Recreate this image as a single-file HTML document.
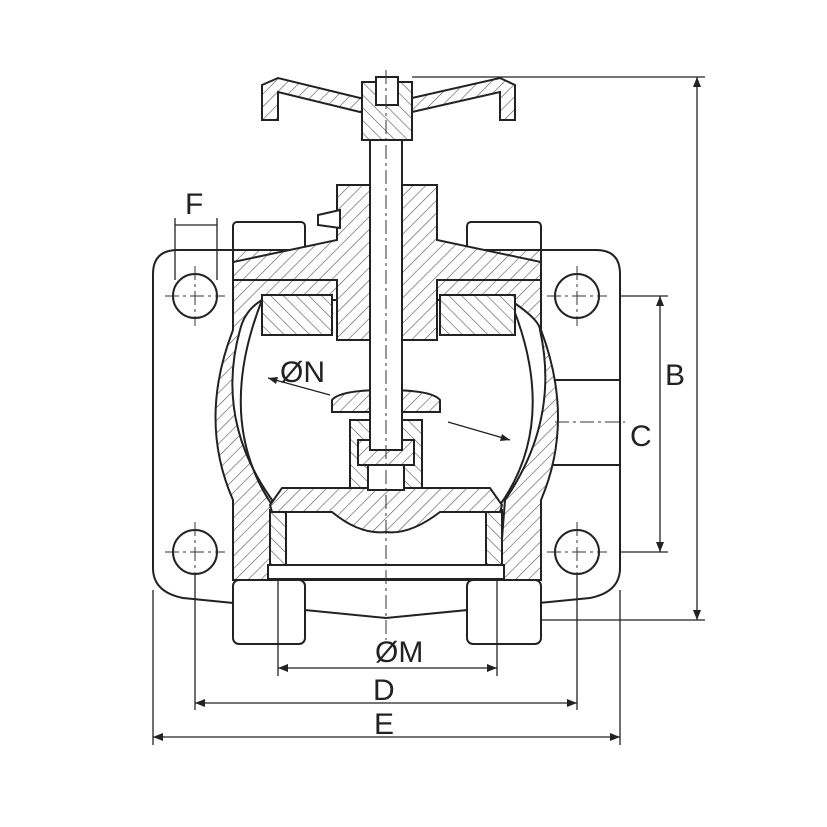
<!DOCTYPE html>
<html><head><meta charset="utf-8"><style>
html,body{margin:0;padding:0;background:#fff}
svg{display:block}
text{font-family:"Liberation Sans",sans-serif;font-size:30px;fill:#222}
</style></head><body>
<svg width="827" height="827" viewBox="0 0 827 827" xmlns="http://www.w3.org/2000/svg">
<defs>
<pattern id="h" width="9" height="9" patternUnits="userSpaceOnUse" patternTransform="rotate(45)">
<rect width="9" height="9" fill="#fff"/><line x1="0" y1="0" x2="0" y2="9" stroke="#555" stroke-width="1.2"/>
</pattern>
<pattern id="h2" width="9" height="9" patternUnits="userSpaceOnUse" patternTransform="rotate(-45)">
<rect width="9" height="9" fill="#fff"/><line x1="0" y1="0" x2="0" y2="9" stroke="#555" stroke-width="1.2"/>
</pattern>
</defs>
<g stroke="#222" stroke-width="2" fill="none">
<!-- flange plate -->
<path d="M178 250 L596 250 Q620 250 620 274 L620 568 Q620 592 590 598 L386 618 L183 598 Q153 592 153 568 L153 274 Q153 250 178 250 Z" fill="#fff"/>
<!-- bottom bolts -->
<rect x="233" y="580" width="72" height="64" rx="6" fill="#fff"/>
<rect x="467" y="580" width="74" height="64" rx="6" fill="#fff"/>
<!-- top bolt bosses -->
<rect x="233" y="222" width="72" height="30" rx="4" fill="#fff"/>
<rect x="467" y="222" width="74" height="30" rx="4" fill="#fff"/>
<!-- side boss -->
<rect x="541" y="380" width="79" height="85" fill="#fff"/>
<!-- body hatched -->
<path d="M233 250 L541 250 L541 330 Q575 420 541 500 L541 580 L233 580 L233 500 Q198 420 233 330 Z" fill="url(#h)"/>
<!-- cavity -->
<path d="M262 300 L510 300 Q540 320 540 330 Q560 420 505 500 L500 565 L275 565 L272 500 Q215 420 240 330 Q245 310 262 300 Z" fill="#fff"/>
<!-- inner bulb walls -->
<path d="M262 300 Q215 420 272 505" />
<path d="M510 300 Q560 420 500 505" />
<rect x="262" y="295" width="70" height="40" fill="url(#h2)"/>
<rect x="440" y="295" width="75" height="40" fill="url(#h2)"/>
<!-- bottom seat -->
<rect x="270" y="510" width="16" height="55" fill="url(#h2)"/>
<rect x="486" y="510" width="16" height="55" fill="url(#h2)"/>
<rect x="268" y="565" width="236" height="14" fill="#fff"/>
<!-- disc -->
<path d="M270 505 L282 488 L490 488 L502 505 L500 512 L440 512 Q410 535 386 532 Q360 535 332 512 L272 512 Z" fill="url(#h)"/>
<path d="M350 420 L422 420 L422 488 L350 488 Z" fill="url(#h2)"/>
<path d="M332 400 Q340 390 386 390 Q432 390 440 400 L440 412 L332 412 Z" fill="url(#h)"/>
<rect x="358" y="440" width="56" height="25" fill="url(#h)"/>
<rect x="368" y="465" width="36" height="25" fill="#fff"/>
<!-- bonnet -->
<path d="M337 185 L437 185 L437 240 L541 262 L541 280 L437 280 L437 340 L337 340 L337 280 L233 280 L233 262 L337 240 Z" fill="url(#h)"/>
<path d="M318 215 L340 210 L340 228 L318 225 Z" fill="#fff"/>
<!-- stem -->
<rect x="370" y="140" width="32" height="310" fill="#fff"/>
<!-- handwheel -->
<path d="M262 85 L278 78 L360 98 L412 98 L500 78 L515 85 L515 120 L500 120 L500 92 L412 112 L360 112 L278 92 L278 120 L262 120 Z" fill="url(#h)"/>
<rect x="362" y="82" width="50" height="58" fill="url(#h2)"/>
<rect x="376" y="77" width="22" height="28" fill="#fff"/>
<!-- bolt holes -->
<circle cx="195" cy="296" r="22" fill="#fff"/>
<circle cx="577" cy="296" r="22" fill="#fff"/>
<circle cx="195" cy="552" r="22" fill="#fff"/>
<circle cx="577" cy="552" r="22" fill="#fff"/>
</g>
<!-- center lines -->
<g stroke="#333" stroke-width="1" stroke-dasharray="14 4 3 4">
<line x1="386" y1="70" x2="386" y2="640"/>
<line x1="165" y1="296" x2="225" y2="296"/><line x1="195" y1="266" x2="195" y2="326"/>
<line x1="547" y1="296" x2="607" y2="296"/><line x1="577" y1="266" x2="577" y2="326"/>
<line x1="165" y1="552" x2="225" y2="552"/><line x1="195" y1="522" x2="195" y2="582"/>
<line x1="547" y1="552" x2="607" y2="552"/><line x1="577" y1="522" x2="577" y2="582"/>
<line x1="555" y1="422" x2="625" y2="422"/>
</g>
<!-- dimension lines -->
<g stroke="#222" stroke-width="1.3" fill="none">
<line x1="412" y1="77" x2="705" y2="77"/>
<line x1="541" y1="620" x2="705" y2="620"/>
<line x1="697" y1="77" x2="697" y2="620"/>
<line x1="620" y1="296" x2="668" y2="296"/>
<line x1="620" y1="552" x2="668" y2="552"/>
<line x1="660" y1="296" x2="660" y2="552"/>
<line x1="175" y1="218" x2="175" y2="280"/>
<line x1="217" y1="218" x2="217" y2="280"/>
<line x1="175" y1="225" x2="217" y2="225"/>
<line x1="278" y1="580" x2="278" y2="676"/>
<line x1="497" y1="580" x2="497" y2="676"/>
<line x1="278" y1="668" x2="497" y2="668"/>
<line x1="195" y1="575" x2="195" y2="710"/>
<line x1="577" y1="575" x2="577" y2="710"/>
<line x1="195" y1="703" x2="577" y2="703"/>
<line x1="153" y1="590" x2="153" y2="745"/>
<line x1="620" y1="590" x2="620" y2="745"/>
<line x1="153" y1="737" x2="620" y2="737"/>
<line x1="268" y1="378" x2="330" y2="395"/>
<line x1="448" y1="422" x2="510" y2="440"/>
</g>
<g fill="#222">
<path d="M697 77 l-4 10 h8 z"/><path d="M697 620 l-4 -10 h8 z"/>
<path d="M660 296 l-4 10 h8 z"/><path d="M660 552 l-4 -10 h8 z"/>
<path d="M278 668 l10 -4 v8 z"/><path d="M497 668 l-10 -4 v8 z"/>
<path d="M195 703 l10 -4 v8 z"/><path d="M577 703 l-10 -4 v8 z"/>
<path d="M153 737 l10 -4 v8 z"/><path d="M620 737 l-10 -4 v8 z"/>
<path d="M268 378 l10 -1 l-2 7 z"/><path d="M510 440 l-10 1 l2 -7 z"/>
</g>
<text x="665" y="385">B</text>
<text x="630" y="446">C</text>
<text x="185" y="214">F</text>
<text x="280" y="382">ØN</text>
<text x="375" y="662">ØM</text>
<text x="373" y="700">D</text>
<text x="374" y="734">E</text>
</svg>
</body></html>
